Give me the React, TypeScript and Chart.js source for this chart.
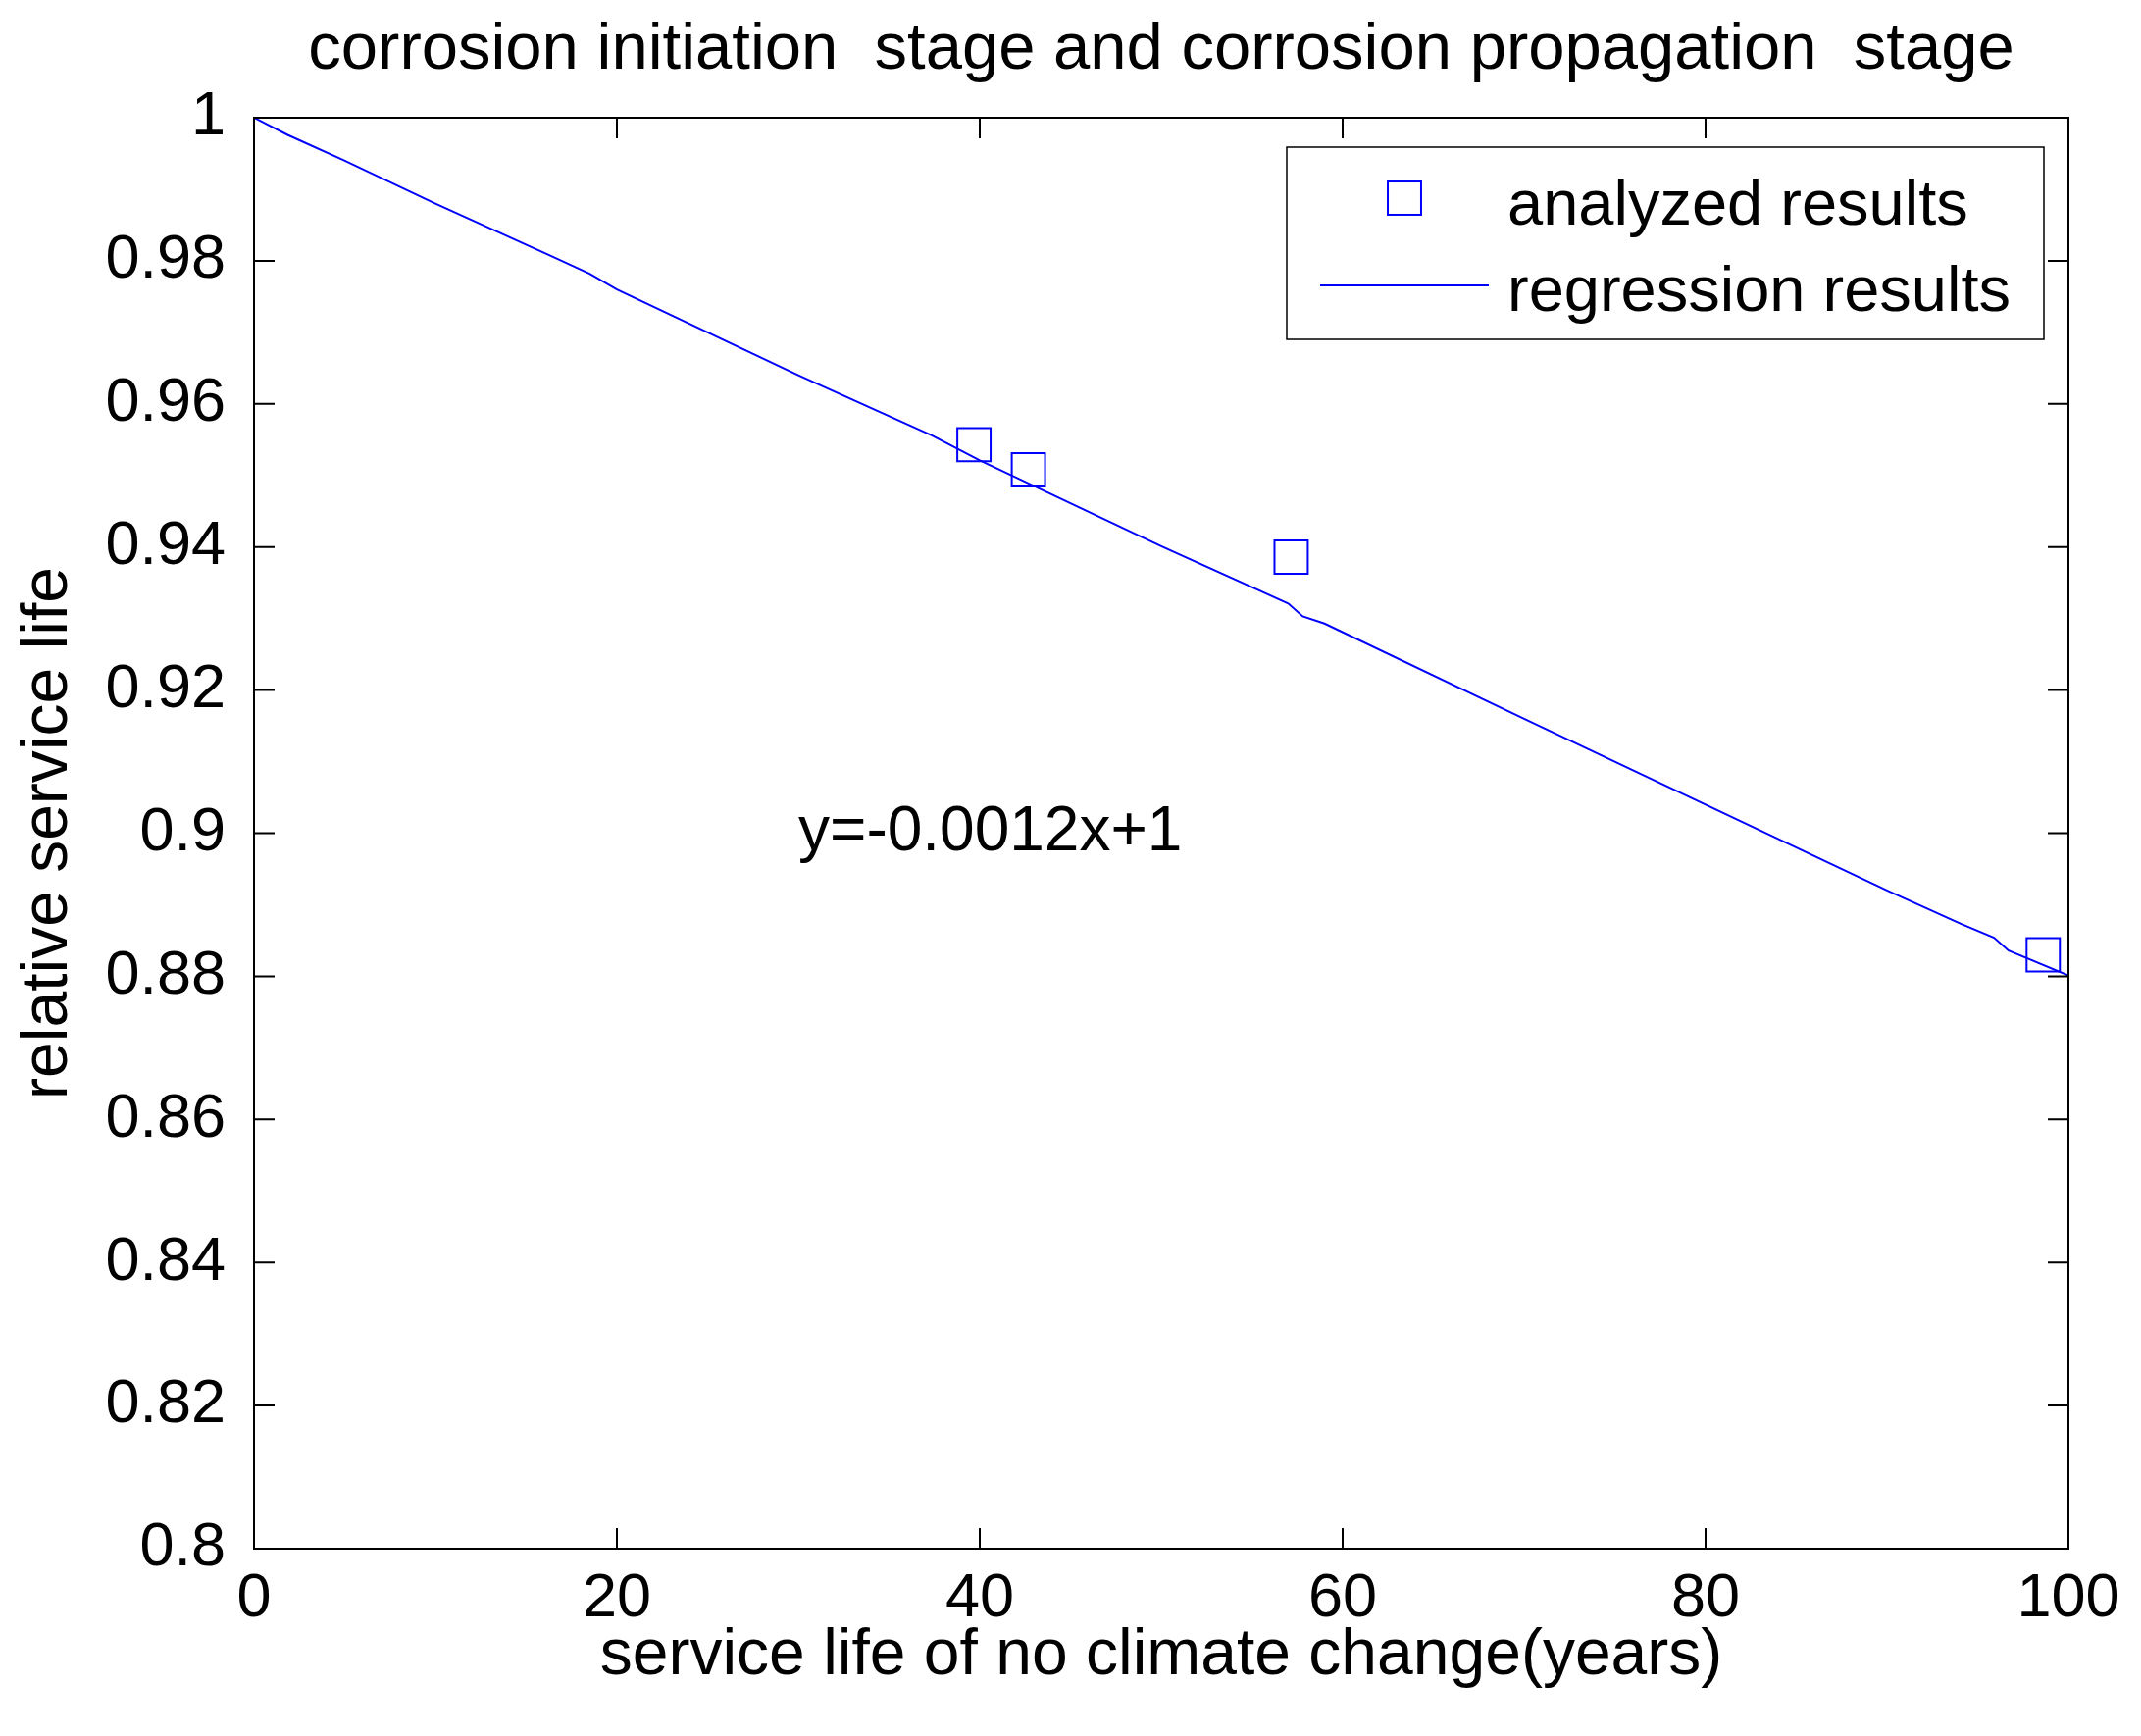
import React, { useEffect, useRef } from 'react';
import { Chart, registerables } from 'chart.js';

Chart.register(...registerables);

const TITLE = 'corrosion initiation  stage and corrosion propagation  stage';
const X_LABEL = 'service life of no climate change(years)';
const Y_LABEL = 'relative service life';
const ANALYZED_LABEL = 'analyzed results';
const REGRESSION_LABEL = 'regression results';
const EQUATION = 'y=-0.0012x+1';
const equationAt = [30, 0.9];

const xTickValues = [0, 20, 40, 60, 80, 100];
const yTickValues = [0.8, 0.82, 0.84, 0.86, 0.88, 0.9, 0.92, 0.94, 0.96, 0.98, 1];

const analyzedX = [39.68, 42.68, 57.16, 98.61];
const analyzedY = [0.9543, 0.9508, 0.9386, 0.883];

const regressionX = [0, 1.85, 4.92, 10, 16.27, 18.5, 20, 30, 37.35, 40, 50, 57, 57.8, 59, 70, 80, 90, 94.1, 95.9, 96.7, 100];
const regressionY = [1, 0.9976, 0.9941, 0.988, 0.9808, 0.9782, 0.976, 0.964, 0.9556, 0.9521, 0.9401, 0.9321, 0.9303, 0.9293, 0.916, 0.904, 0.892, 0.8873, 0.8854, 0.8836, 0.8801];

const FONT = '"Liberation Sans", Arial, Helvetica, sans-serif';
const BLUE = '#0000ff';
const W = 2183;
const H = 1770;

const fmt = (v: number) => String(parseFloat(Number(v).toFixed(4)));

const matlabPlugin = {
  id: 'matlabFrame',
  afterDraw(chart: any) {
    const { ctx, chartArea: a, scales } = chart;
    const xs = scales.x;
    const ys = scales.y;
    ctx.save();
    // frame
    ctx.strokeStyle = '#000';
    ctx.lineWidth = 2;
    ctx.strokeRect(a.left, a.top, a.right - a.left, a.bottom - a.top);
    // inner ticks on all four sides
    const TL = 21;
    ctx.beginPath();
    xs.ticks.forEach((t: any) => {
      const px = xs.getPixelForValue(t.value);
      ctx.moveTo(px, a.bottom);
      ctx.lineTo(px, a.bottom - TL);
      ctx.moveTo(px, a.top);
      ctx.lineTo(px, a.top + TL);
    });
    ys.ticks.forEach((t: any) => {
      const py = ys.getPixelForValue(t.value);
      ctx.moveTo(a.left, py);
      ctx.lineTo(a.left + TL, py);
      ctx.moveTo(a.right, py);
      ctx.lineTo(a.right - TL, py);
    });
    ctx.stroke();

    // equation annotation
    ctx.fillStyle = '#000';
    ctx.font = `64px ${FONT}`;
    ctx.textAlign = 'left';
    ctx.textBaseline = 'middle';
    ctx.fillText(EQUATION, xs.getPixelForValue(equationAt[0]), ys.getPixelForValue(equationAt[1]));

    // legend box (inside, north-east)
    const bw = 772;
    const bh = 196;
    const bx = a.right - 25 - bw;
    const by = a.top + 30;
    ctx.fillStyle = '#fff';
    ctx.fillRect(bx, by, bw, bh);
    ctx.lineWidth = 1.5;
    ctx.strokeStyle = '#000';
    ctx.strokeRect(bx, by, bw, bh);

    const ds0 = chart.data.datasets[0];
    const ds1 = chart.data.datasets[1];
    // marker sample
    const side = ds0.pointRadius * Math.SQRT2;
    ctx.strokeStyle = ds0.pointBorderColor;
    ctx.lineWidth = ds0.pointBorderWidth;
    ctx.strokeRect(bx + 120 - side / 2, by + 52 - side / 2, side, side);
    // line sample
    ctx.strokeStyle = ds1.borderColor;
    ctx.lineWidth = ds1.borderWidth;
    ctx.beginPath();
    ctx.moveTo(bx + 34, by + 141);
    ctx.lineTo(bx + 206, by + 141);
    ctx.stroke();
    // texts
    ctx.fillStyle = '#000';
    ctx.font = `65px ${FONT}`;
    ctx.textAlign = 'left';
    ctx.textBaseline = 'alphabetic';
    ctx.fillText(ds0.label, bx + 225, by + 79);
    ctx.fillText(ds1.label, bx + 225, by + 167);
    ctx.restore();
  },
};

export default function App() {
  const ref = useRef<HTMLCanvasElement | null>(null);

  useEffect(() => {
    if (!ref.current) return;
    const chart = new Chart(ref.current, {
      type: 'scatter',
      data: {
        datasets: [
          {
            label: ANALYZED_LABEL,
            data: analyzedX.map((x, i) => ({ x, y: analyzedY[i] })),
            showLine: false,
            pointStyle: 'rect',
            pointRadius: 24,
            pointHoverRadius: 24,
            pointBorderColor: BLUE,
            pointBackgroundColor: 'rgba(0,0,0,0)',
            pointBorderWidth: 2,
            borderColor: BLUE,
            backgroundColor: 'rgba(0,0,0,0)',
          } as any,
          {
            label: REGRESSION_LABEL,
            data: regressionX.map((x, i) => ({ x, y: regressionY[i] })),
            showLine: true,
            pointRadius: 0,
            pointHoverRadius: 0,
            borderColor: BLUE,
            borderWidth: 2,
            tension: 0,
            fill: false,
          } as any,
        ],
      },
      options: {
        responsive: false,
        animation: false,
        devicePixelRatio: 1,
        events: [],
        layout: { padding: { left: 0, right: 74, top: 0, bottom: 0 } },
        plugins: {
          legend: { display: false },
          tooltip: { enabled: false },
          title: {
            display: true,
            text: TITLE,
            color: '#000',
            fullSize: false,
            font: { family: FONT, size: 67, weight: 'normal', lineHeight: 1.2 },
            padding: { top: 11, bottom: 28.6 },
          },
        },
        scales: {
          x: {
            type: 'linear',
            min: 0,
            max: 100,
            afterBuildTicks: (s: any) => {
              s.ticks = xTickValues.map((v) => ({ value: v }));
            },
            afterFit: (s: any) => {
              s.height = 191;
            },
            grid: { display: false, drawTicks: false },
            border: { display: false },
            ticks: {
              color: '#000',
              padding: 14,
              maxRotation: 0,
              autoSkip: false,
              font: { family: FONT, size: 63 },
              callback: (v: any) => fmt(v),
            },
            title: {
              display: true,
              text: X_LABEL,
              color: '#000',
              font: { family: FONT, size: 66, lineHeight: 1.2 },
              padding: { top: 0, bottom: 42 },
            },
          },
          y: {
            type: 'linear',
            min: 0.8,
            max: 1,
            afterBuildTicks: (s: any) => {
              s.ticks = yTickValues.map((v) => ({ value: v }));
            },
            afterFit: (s: any) => {
              s.width = 259;
            },
            grid: { display: false, drawTicks: false },
            border: { display: false },
            ticks: {
              color: '#000',
              padding: 29,
              autoSkip: false,
              font: { family: FONT, size: 63 },
              callback: (v: any) => fmt(v),
            },
            title: {
              display: true,
              text: Y_LABEL,
              color: '#000',
              font: { family: FONT, size: 66, lineHeight: 1.2 },
              padding: { top: 10, bottom: 0 },
            },
          },
        },
      } as any,
      plugins: [matlabPlugin],
    });
    return () => chart.destroy();
  }, []);

  return (
    <div style={{ position: 'absolute', left: 0, top: 0, width: W, height: H, background: '#fff', overflow: 'hidden' }}>
      <canvas ref={ref} width={W} height={H} style={{ display: 'block', width: W, height: H }} />
    </div>
  );
}
